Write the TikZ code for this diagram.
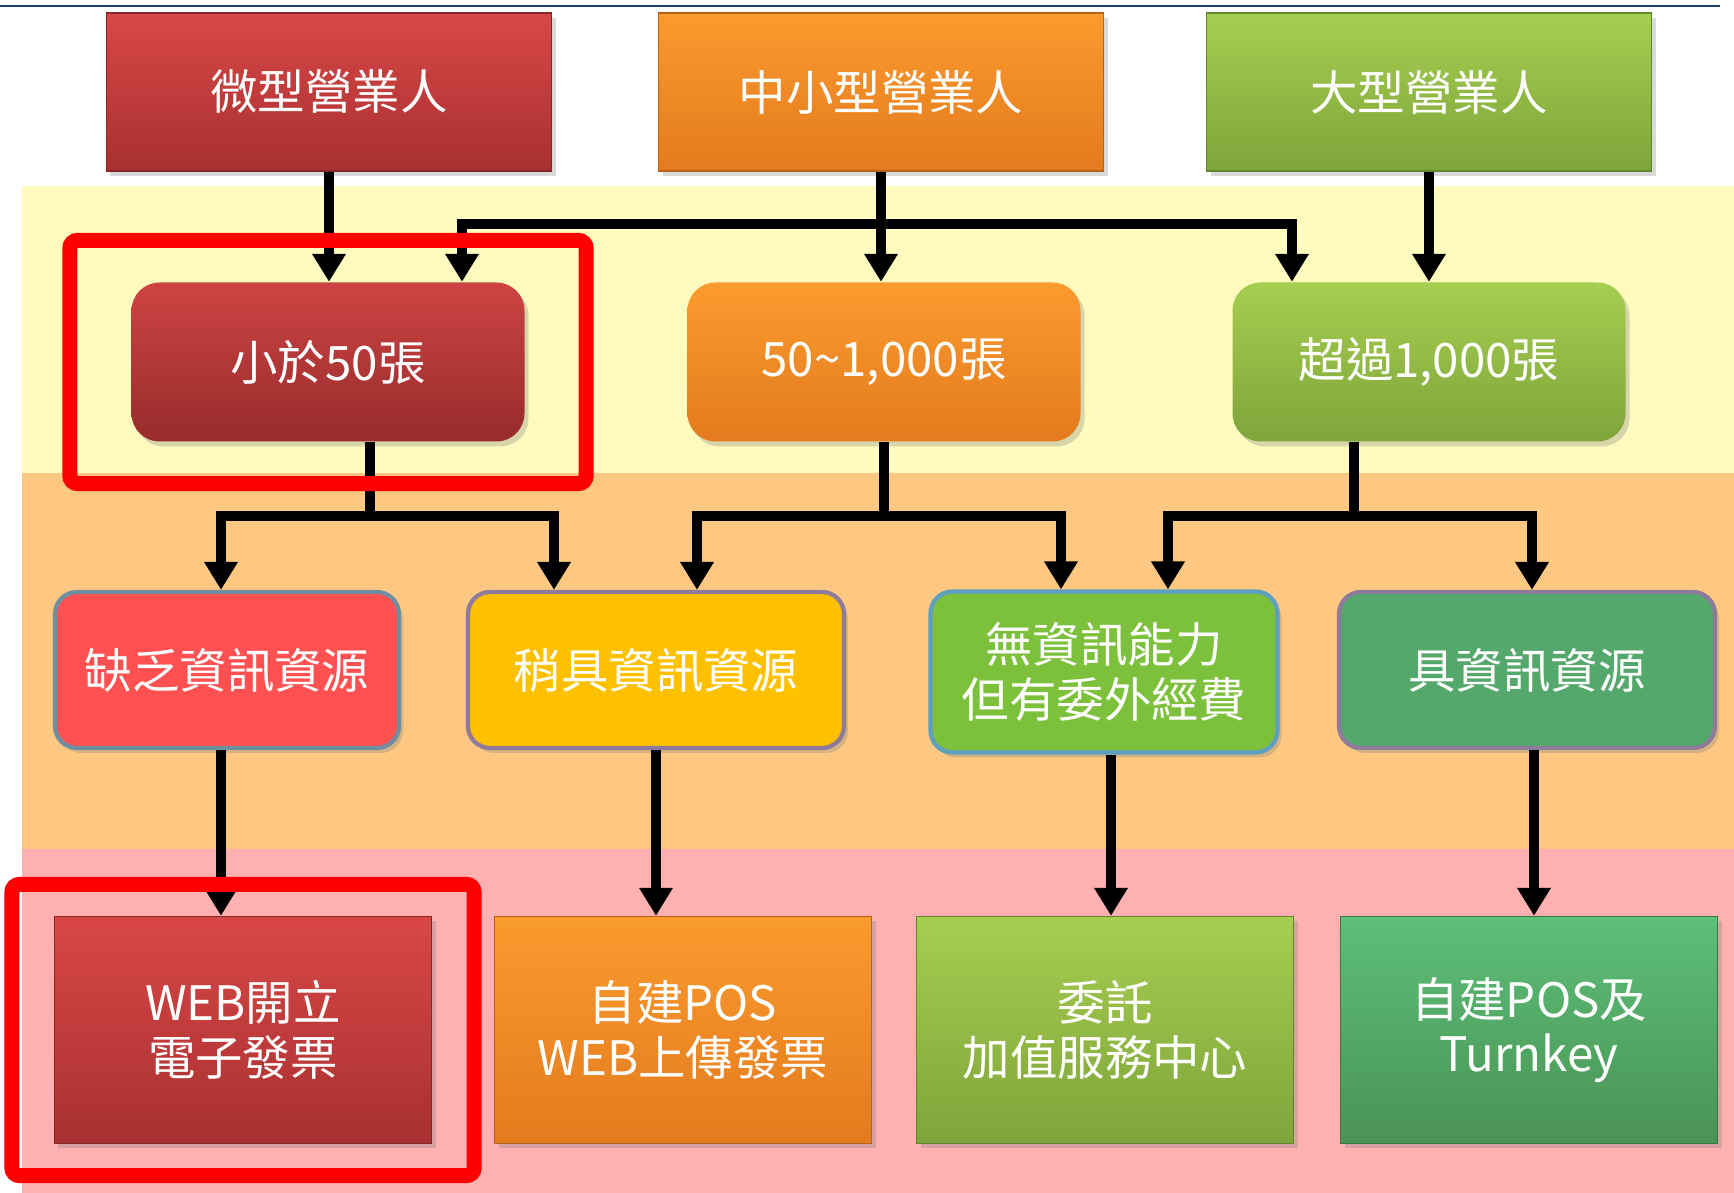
\documentclass[tikz,border=0pt]{standalone}
\usepackage{fontspec}
\setmainfont{Noto Sans CJK TC}
\definecolor{ivnavy}{HTML}{1F3C6E}
\definecolor{ivyellow}{HTML}{FFFBBE}
\definecolor{ivpeach}{HTML}{FEC882}
\definecolor{ivpink}{HTML}{FFB0B0}
\definecolor{ivredtop}{HTML}{D94747}
\definecolor{ivredbot}{HTML}{A83030}
\definecolor{ivorangetop}{HTML}{FA9B2E}
\definecolor{ivorangebot}{HTML}{E47A1E}
\definecolor{ivlimetop}{HTML}{A6CE50}
\definecolor{ivlimebot}{HTML}{7EA53A}
\definecolor{ivgreentop}{HTML}{5CBF78}
\definecolor{ivgreenbot}{HTML}{4A9354}
\definecolor{ivcoral}{HTML}{FF5151}
\definecolor{ivgold}{HTML}{FFC000}
\definecolor{ivleaf}{HTML}{7CC03B}
\definecolor{ivjade}{HTML}{55A86B}
\definecolor{ivteal}{HTML}{6F8FA0}
\definecolor{ivmauve}{HTML}{8E7A9A}
\definecolor{ivsky}{HTML}{5C9FC0}
\definecolor{ivhilite}{HTML}{FF0000}
\usepackage{tikz}
\usetikzlibrary{arrows.meta,positioning,calc,fit,shadows}

\begin{document}
\begin{tikzpicture}[
  box/.style={rectangle, draw=black!40, line width=0.4pt, text=white,
    font=\fontsize{13.5}{15.6}\selectfont, align=center, inner sep=0pt,
    drop shadow={shadow xshift=0.04cm, shadow yshift=-0.05cm, opacity=0.3}},
  payer/.style={box, minimum width=4.45cm, minimum height=1.58cm},
  volume/.style={box, rounded corners=0.28cm, draw=none,
    minimum width=3.93cm, minimum height=1.59cm},
  skill/.style={box, rounded corners=0.22cm, line width=1.2pt, minimum height=1.56cm},
  method/.style={box, minimum width=3.77cm, minimum height=2.27cm},
  flow/.style={-{Triangle[length=2.8mm,width=3.2mm]}, line width=1mm},
  trunk/.style={line width=1mm},
  hilite/.style={draw=ivhilite, line width=1.5mm, rounded corners=0.8mm}
]
  \useasboundingbox (0,0) rectangle (17.34,-11.93);

  % Background bands
  \fill[ivyellow] (0.22,-1.86) rectangle (17.34,-4.73);
  \fill[ivpeach] (0.22,-4.73) rectangle (17.34,-8.49);
  \fill[ivpink] (0.22,-8.49) rectangle (17.34,-11.93);
  \draw[ivnavy, line width=0.6pt] (0,-0.06) -- (17.2,-0.06);

  % Business size
  \node[payer, top color=ivredtop, bottom color=ivredbot, draw=ivredbot!80!black]
    (micro) at (3.29,-0.92) {微型營業人};
  \node[payer, top color=ivorangetop, bottom color=ivorangebot, draw=ivorangebot!80!black]
    (smb) at (8.81,-0.92) {中小型營業人};
  \node[payer, top color=ivlimetop, bottom color=ivlimebot, draw=ivlimebot!80!black]
    (large) at (14.29,-0.92) {大型營業人};

  % Invoices per month
  \node[volume, top color=ivredtop!95!black, bottom color=ivredbot!90!black]
    (lt50) at (3.28,-3.62) {小於50張};
  \node[volume, top color=ivorangetop, bottom color=ivorangebot]
    (mid) at (8.84,-3.62) {50\textasciitilde1,000張};
  \node[volume, top color=ivlimetop, bottom color=ivlimebot]
    (gt1k) at (14.29,-3.62) {超過1,000張};

  % IT resources
  \node[skill, fill=ivcoral, draw=ivteal, minimum width=3.44cm]
    (lack) at (2.27,-6.70) {缺乏資訊資源};
  \node[skill, fill=ivgold, draw=ivmauve, minimum width=3.76cm]
    (some) at (6.56,-6.70) {稍具資訊資源};
  \node[skill, fill=ivleaf, draw=ivsky, minimum width=3.47cm, minimum height=1.61cm]
    (none) at (11.04,-6.72) {無資訊能力\\但有委外經費};
  \node[skill, fill=ivjade, draw=ivmauve, minimum width=3.76cm]
    (has) at (15.27,-6.70) {具資訊資源};

  % Issuing method
  \node[method, top color=ivredtop, bottom color=ivredbot, draw=ivredbot!80!black]
    (web) at (2.43,-10.30) {WEB開立\\電子發票};
  \node[method, top color=ivorangetop, bottom color=ivorangebot, draw=ivorangebot!80!black]
    (pos) at (6.83,-10.30) {自建POS\\WEB上傳發票};
  \node[method, top color=ivlimetop, bottom color=ivlimebot, draw=ivlimebot!80!black]
    (agent) at (11.05,-10.30) {委託\\加值服務中心};
  \node[method, top color=ivgreentop, bottom color=ivgreenbot, draw=ivgreenbot!80!black]
    (turnkey) at (15.29,-10.30) {自建POS及\\Turnkey};

  % Arrows from business size
  \draw[flow] (micro.south) -- (micro.south |- lt50.north);
  \draw[flow] (smb.south) -- (smb.south |- mid.north);
  \draw[flow] (large.south) -- (large.south |- gt1k.north);
  \coordinate (smbbar) at ([yshift=-0.52cm]smb.south);
  \draw[flow] (smbbar) -| ([xshift=1.34cm]lt50.north);
  \draw[flow] (smbbar) -| ([xshift=-1.37cm]gt1k.north);

  % Arrows from invoice volume
  \coordinate (lt50bar) at ([xshift=0.42cm,yshift=-0.74cm]lt50.south);
  \draw[trunk] ([xshift=0.42cm]lt50.south) -- (lt50bar);
  \draw[flow] (lt50bar) -| ([xshift=-0.06cm]lack.north);
  \draw[flow] (lt50bar) -| ([xshift=-1.02cm]some.north);
  \coordinate (midbar) at ([yshift=-0.74cm]mid.south);
  \draw[trunk] (mid.south) -- (midbar);
  \draw[flow] (midbar) -| ([xshift=0.41cm]some.north);
  \draw[flow] (midbar) -| ([xshift=-0.43cm]none.north);
  \coordinate (gt1kbar) at ([xshift=-0.75cm,yshift=-0.74cm]gt1k.south);
  \draw[trunk] ([xshift=-0.75cm]gt1k.south) -- (gt1kbar);
  \draw[flow] (gt1kbar) -| ([xshift=0.64cm]none.north);
  \draw[flow] (gt1kbar) -| ([xshift=0.05cm]has.north);

  % Arrows to issuing method
  \draw[flow] ([xshift=-0.06cm]lack.south) -- ([xshift=-0.06cm]lack.south |- web.north);
  \draw[flow] (some.south) -- (some.south |- pos.north);
  \draw[flow] ([xshift=0.07cm]none.south) -- ([xshift=0.07cm]none.south |- agent.north);
  \draw[flow] ([xshift=0.07cm]has.south) -- ([xshift=0.07cm]has.south |- turnkey.north);

  % Highlight frames
  \node[hilite, fit=(lt50), inner xsep=0.61cm, inner ysep=0.415cm] (lt50frame) {};
  \node[hilite, fit=(web), inner xsep=0.42cm, inner ysep=0.315cm] (webframe) {};
\end{tikzpicture}
\end{document}
